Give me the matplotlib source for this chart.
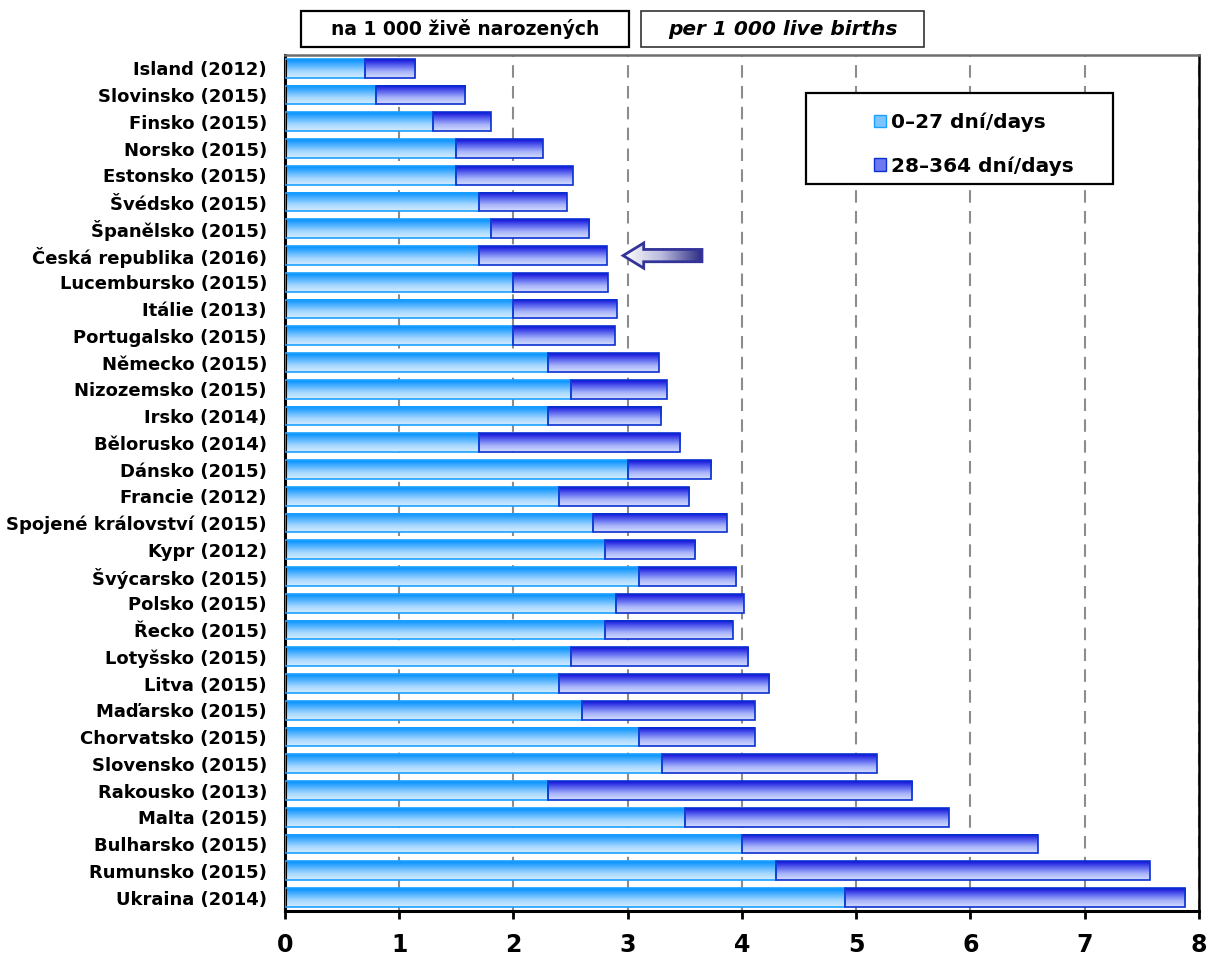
import numpy as np
import matplotlib
matplotlib.use("Agg")
import matplotlib.pyplot as plt
from matplotlib.colors import LinearSegmentedColormap
from matplotlib.patches import Rectangle, Polygon, Patch

plt.rcParams['font.family'] = ['DejaVu Sans']
plt.rcParams['font.weight'] = 'bold'

# ------------------------------------------------------------------
# data
# ------------------------------------------------------------------
countries = [
    "Island (2012)", "Slovinsko (2015)", "Finsko (2015)", "Norsko (2015)",
    "Estonsko (2015)", "Švédsko (2015)", "Španělsko (2015)",
    "Česká republika (2016)", "Lucembursko (2015)", "Itálie (2013)",
    "Portugalsko (2015)", "Německo (2015)", "Nizozemsko (2015)",
    "Irsko (2014)", "Bělorusko (2014)", "Dánsko (2015)", "Francie (2012)",
    "Spojené království (2015)", "Kypr (2012)", "Švýcarsko (2015)",
    "Polsko (2015)", "Řecko (2015)", "Lotyšsko (2015)", "Litva (2015)",
    "Maďarsko (2015)", "Chorvatsko (2015)", "Slovensko (2015)",
    "Rakousko (2013)", "Malta (2015)", "Bulharsko (2015)",
    "Rumunsko (2015)", "Ukraina (2014)",
]
days_0_27 = [0.7, 0.8, 1.3, 1.5, 1.5, 1.7, 1.8, 1.7, 2.0, 2.0, 2.0, 2.3,
             2.5, 2.3, 1.7, 3.0, 2.4, 2.7, 2.8, 3.1, 2.9, 2.8, 2.5, 2.4,
             2.6, 3.1, 3.3, 2.3, 3.5, 4.0, 4.3, 4.9]
days_28_364 = [0.44, 0.78, 0.50, 0.76, 1.02, 0.77, 0.86, 1.12, 0.83, 0.91,
               0.89, 0.97, 0.84, 0.99, 1.76, 0.73, 1.14, 1.17, 0.79, 0.85,
               1.12, 1.12, 1.55, 1.84, 1.51, 1.01, 1.88, 3.19, 2.31, 2.59,
               3.27, 2.98]
x_ticks = [0, 1, 2, 3, 4, 5, 6, 7, 8]
legend_labels = ["0–27 dní/days", "28–364 dní/days"]
highlight = "Česká republika (2016)"

# gradient colours: top of the bar -> bottom of the bar
light_cmap = LinearSegmentedColormap.from_list(
    "light", ["#0090FF", "#55B4FF", "#A8D8FF", "#D2ECFF"])
dark_cmap = LinearSegmentedColormap.from_list(
    "dark", ["#1010DC", "#5A64EE", "#A8B4FA", "#D4DCFF"])
arrow_cmap = LinearSegmentedColormap.from_list(
    "arrow", ["#FFFFFF", "#B8B8DC", "#2E2E84"])

fig = plt.figure(figsize=(12.08, 9.56), dpi=100)
ax = fig.add_axes([0.2359, 0.0471, 0.7566, 0.8954])

y = np.arange(len(countries))
bar_h = 0.7
grad = np.linspace(0, 1, 64).reshape(-1, 1)


def gradient_bars(bars, cmap):
    for b in bars:
        x0, y0 = b.get_x(), b.get_y()
        w, h = b.get_width(), b.get_height()
        ax.imshow(grad, cmap=cmap, aspect="auto", origin="upper",
                  extent=(x0, x0 + w, y0 + h, y0), zorder=2,
                  interpolation="bilinear")


b1 = ax.barh(y, days_0_27, height=bar_h, facecolor="none",
             edgecolor="#1AA0FF", linewidth=1.2, zorder=3)
b2 = ax.barh(y, days_28_364, left=days_0_27, height=bar_h,
             facecolor="none", edgecolor="#0A30D0", linewidth=1.2, zorder=3)
gradient_bars(b1, light_cmap)
gradient_bars(b2, dark_cmap)

# arrow pointing at the Czech bar
i = countries.index(highlight)
tip = days_0_27[i] + days_28_364[i] + 0.14
head, tail = tip + 0.18, tip + 0.69
pts = [(tip, i), (head, i - 0.47), (head, i - 0.23), (tail, i - 0.23),
       (tail, i + 0.23), (head, i + 0.23), (head, i + 0.47)]
arrow = Polygon(pts, closed=True, facecolor="none", edgecolor="#333399",
                linewidth=2, zorder=5)
ax.add_patch(arrow)
img = ax.imshow(np.linspace(0, 1, 64).reshape(1, -1), cmap=arrow_cmap,
                aspect="auto", extent=(tip, tail, i + 0.47, i - 0.47),
                zorder=4, interpolation="bilinear")
img.set_clip_path(arrow)

ax.set_xlim(0, 8)
ax.set_ylim(len(countries) - 0.5, -0.5)

ax.set_xticks(x_ticks)
ax.set_xticklabels([str(t) for t in x_ticks], fontsize=17, fontweight="bold")
ax.set_yticks(y)
ax.set_yticklabels(countries, fontsize=13, fontweight="bold")
ax.tick_params(axis="y", length=0, pad=13)
ax.tick_params(axis="x", direction="out", length=6, width=2, pad=10)

ax.set_axisbelow(True)
ax.xaxis.grid(True, linestyle=(0, (6, 4)), color="#8C8C8C", linewidth=1.5)
ax.yaxis.grid(False)

for side in ("left", "bottom"):
    ax.spines[side].set_linewidth(2.2)
    ax.spines[side].set_color("black")
ax.spines["right"].set_linewidth(1.8)
ax.spines["right"].set_color("black")
ax.spines["top"].set_linewidth(1.8)
ax.spines["top"].set_color("#6E6E6E")

# legend in a drawn box
fig.patches.append(Rectangle((0.667, 0.8075), 0.254, 0.095,
                             transform=fig.transFigure, facecolor="white",
                             edgecolor="black", linewidth=1.6, zorder=6))
handles = [Patch(facecolor="#7CC4FF", edgecolor="#1AA0FF", linewidth=1),
           Patch(facecolor="#6E78F0", edgecolor="#0A30D0", linewidth=1)]
leg = fig.legend(handles, legend_labels, loc="upper left",
                 bbox_to_anchor=(0.712, 0.897), frameon=False,
                 prop={"size": 14.5, "weight": "bold"},
                 handlelength=0.6, handleheight=0.6, handletextpad=0.25,
                 labelspacing=1.2, borderpad=0.2)
leg.set_zorder(7)

# unit boxes above the plot
boxes = [((0.2492, 0.9508, 0.2715, 0.0377), "na 1 000 živě narozených",
          "normal", 13.5, "black", 1.6),
         ((0.5306, 0.9508, 0.2343, 0.0377), "per 1 000 live births",
          "italic", 14.5, "#333333", 1.2)]
for (bx, by, bw, bh), txt, style, size, ec, lw in boxes:
    fig.patches.append(Rectangle((bx, by), bw, bh, transform=fig.transFigure,
                                 facecolor="white", edgecolor=ec,
                                 linewidth=lw))
    fig.text(bx + bw / 2, by + bh / 2, txt, ha="center", va="center",
             fontsize=size, fontweight="bold", style=style)

fig.savefig("out.png", dpi=100)
